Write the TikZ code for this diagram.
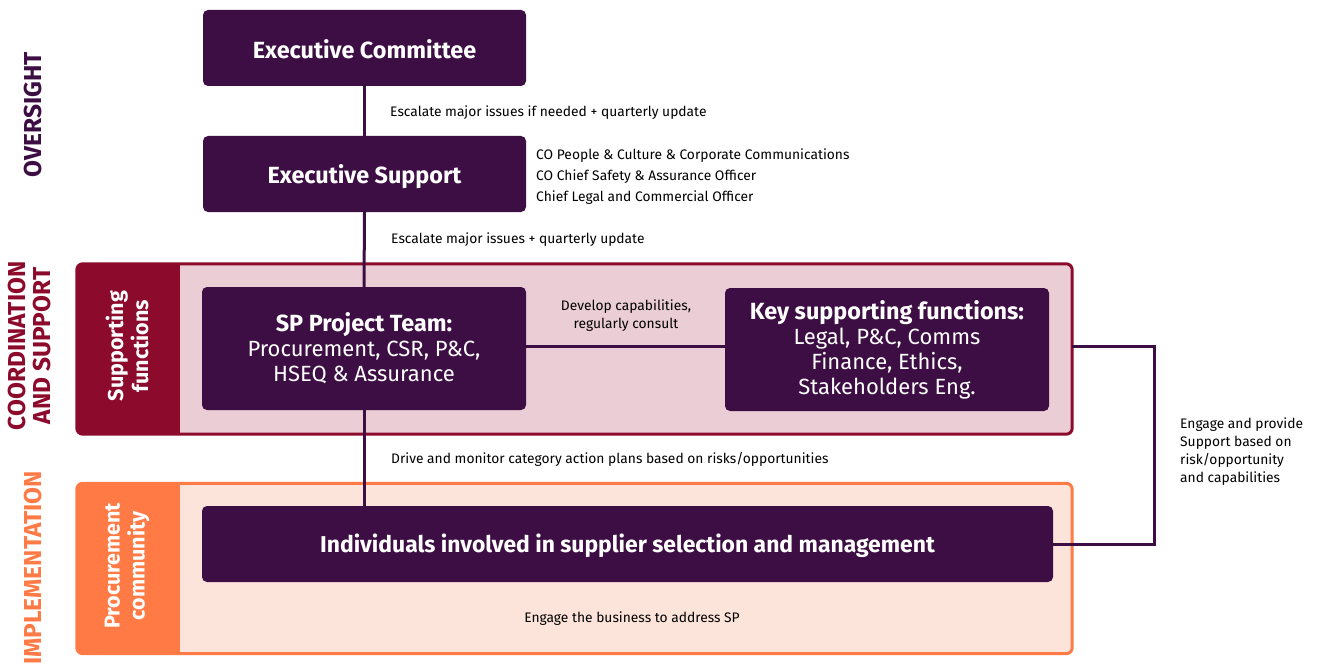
\documentclass[tikz,border=0pt]{standalone}
\usepackage{fontspec}
\setmainfont{Fira Sans}
\definecolor{dpurple}{HTML}{3D0E43}
\definecolor{dred}{HTML}{8C0A2B}
\definecolor{pinkfill}{HTML}{EBCDD6}
\definecolor{orng}{HTML}{FF7A45}
\definecolor{lorng}{HTML}{FDE4DA}
\begin{document}
\begin{tikzpicture}[x=1pt,y=-1pt,
  box/.style={fill=dpurple, rounded corners=5pt, text=white, align=center, inner sep=0pt},
  lbl/.style={font=\fontsize{13.8}{18}\selectfont, text=black, inner sep=0pt, align=left},
  side/.style={rotate=90, font=\fontsize{24.5}{25}\selectfont\bfseries, inner sep=0pt, align=center},
  band/.style={rotate=90, font=\fontsize{21.5}{25}\selectfont\bfseries, text=white, inner sep=0pt, align=center},
  conn/.style={draw=dpurple, line width=3pt}]
\useasboundingbox (0,0) rectangle (1319,666);
% panels
\node[fill=pinkfill, rounded corners=6pt, minimum width=995pt, minimum height=170pt, inner sep=0pt] (cpanel) at (574.5,349) {};
\begin{scope}
\clip[rounded corners=6pt] (cpanel.south west) rectangle (cpanel.north east);
\fill[dred] (70,250) rectangle (180,450);
\end{scope}
\draw[dred, line width=3pt, rounded corners=6pt] (cpanel.south west) rectangle (cpanel.north east);
\node[fill=lorng, rounded corners=6pt, minimum width=995pt, minimum height=170pt, inner sep=0pt] (ipanel) at (574.5,568.5) {};
\begin{scope}
\clip[rounded corners=6pt] (ipanel.south west) rectangle (ipanel.north east);
\fill[orng] (70,470) rectangle (180,670);
\end{scope}
\draw[orng, line width=3pt, rounded corners=6pt] (ipanel.south west) rectangle (ipanel.north east);
% side labels
\node[side, text=dpurple] (over) at (33,115) {OVERSIGHT};
\node[side, text=dred] (coord) at (30,346) {COORDINATION\\AND SUPPORT};
\node[side, text=orng] (impl) at (33,568) {IMPLEMENTATION};
\node[band] (suppf) at (127,346) {Supporting\\functions};
\node[band] (procc) at (127,566) {Procurement\\community};
% boxes
\node[box, minimum width=323pt, minimum height=76pt, font=\fontsize{23.4}{26}\selectfont\bfseries] (ec) at (364.5,48) {\raisebox{-1pt}[\height][\depth]{Executive Committee}};
\node[box, minimum width=323pt, minimum height=76pt, font=\fontsize{23.4}{26}\selectfont\bfseries] (es) at (364.5,174) {\raisebox{-3pt}[\height][\depth]{Executive Support}};
\node[box, minimum width=324pt, minimum height=123pt, font=\fontsize{22}{25}\selectfont] (sp) at (364,348.5) {\fontsize{23.4}{25}\selectfont\textbf{SP Project Team:}\\Procurement, CSR, P\&C,\\HSEQ \& Assurance};
\node[box, minimum width=324pt, minimum height=123pt, font=\fontsize{22}{25}\selectfont] (key) at (887,349.5) {\fontsize{23.4}{25}\selectfont\textbf{Key supporting functions:}\\Legal, P\&C, Comms\\Finance, Ethics,\\Stakeholders Eng.};
\node[box, minimum width=851pt, minimum height=76pt, font=\fontsize{22.9}{26}\selectfont\bfseries] (ind) at (627.5,544) {\raisebox{-2pt}[\height][\depth]{Individuals involved in supplier selection and management}};
% connectors
\coordinate (r1) at (1154,346);
\coordinate (r2) at (1154,544);
\draw[conn] (ec.south) -- (es.north);
\draw[conn] (es.south) -- (sp.north);
\draw[conn] (sp.south) -- (sp.south |- ind.north);
\draw[conn] (sp.east |- r1) -- (key.west |- r1);
\draw[conn] (cpanel.east |- r1) -- (r1) -- (r2) -- (ind.east |- r2);
% labels
\node[lbl, anchor=west] (l1) at (390,113) {Escalate major issues if needed + quarterly update};
\node[lbl, anchor=west] (l2) at (391,240) {Escalate major issues + quarterly update};
\node[lbl, anchor=west, font=\fontsize{13.8}{21}\selectfont] (l3) at (536,177) {CO People \& Culture \& Corporate Communications\\CO Chief Safety \& Assurance Officer\\Chief Legal and Commercial Officer};
\node[lbl, align=center] (l4) at (626,316) {Develop capabilities,\\regularly consult};
\node[lbl, anchor=west] (l5) at (391,459) {Drive and monitor category action plans based on risks/opportunities};
\node[lbl, anchor=west] (l6) at (1180,452) {Engage and provide\\Support based on\\risk/opportunity\\and capabilities};
\node[lbl, align=center] (l7) at (632,619) {Engage the business to address SP};
\end{tikzpicture}
\end{document}
